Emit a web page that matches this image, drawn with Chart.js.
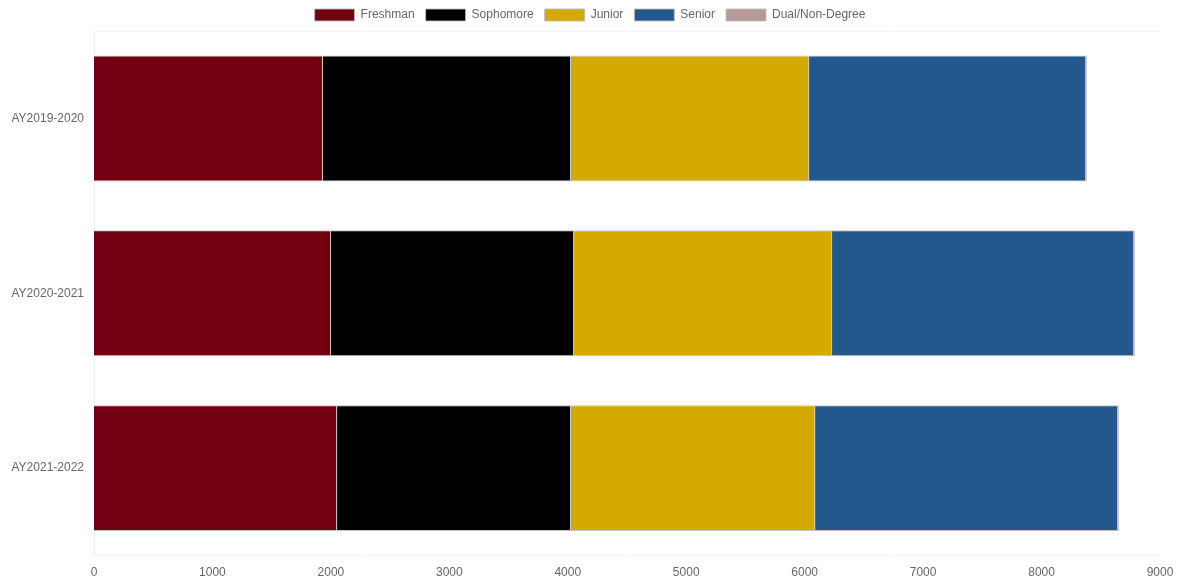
<!DOCTYPE html>
<html>
<head>
<meta charset="utf-8">
<script src="https://cdn.jsdelivr.net/npm/chart.js@4"></script>
<style>
  html, body { margin: 0; padding: 0; background: #fff; }
  #wrap { width: 1180px; height: 584px; }
</style>
</head>
<body>
<div id="wrap"><canvas id="bar_chart"></canvas></div>
<script>
// 学年
const years = ['AY2019-2020', 'AY2020-2021', 'AY2021-2022']

// 学生数のデータ
const freshman = [1933, 2001, 2052]
const sophomore = [2094, 2052, 1975]
const junior = [2010, 2178, 2061]
const senior = [2339, 2550, 2558]
const dual = [8, 8, 8]

const xTicks = [0, 1000, 2000, 3000, 4000, 5000, 6000, 7000, 8000, 9000]

Chart.defaults.font.family = '"Liberation Sans", Arial, sans-serif'
Chart.defaults.font.size = 12
Chart.defaults.color = '#666'

const border = 'rgba(190, 190, 190, 0.9)'

// 凡例をキャンバス中央に寄せる
const legendShift = {
  id: 'legendShift',
  afterLayout(chart) {
    chart.legend.left += 10
    chart.legend.right += 10
  },
}

const ctx = document.getElementById('bar_chart').getContext('2d')
const bar_chart = new Chart(ctx, {
  type: 'bar',
  data: {
    labels: years,
    datasets: [
      { label: 'Freshman', data: freshman, backgroundColor: 'rgb(115, 0, 16)', borderColor: border, borderWidth: 1 },
      { label: 'Sophomore', data: sophomore, backgroundColor: 'rgb(0, 0, 0)', borderColor: border, borderWidth: 1 },
      { label: 'Junior', data: junior, backgroundColor: 'rgb(212, 169, 0)', borderColor: border, borderWidth: 1 },
      { label: 'Senior', data: senior, backgroundColor: 'rgb(35, 88, 140)', borderColor: border, borderWidth: 1 },
      { label: 'Dual/Non-Degree', data: dual, backgroundColor: 'rgb(185, 152, 152)', borderColor: border, borderWidth: 1 },
    ],
  },
  plugins: [legendShift],
  options: {
    indexAxis: 'y',
    responsive: true,
    maintainAspectRatio: false,
    animation: false,
    layout: { padding: { left: 0, right: 20, top: -2, bottom: 2 } },
    categoryPercentage: 0.8,
    barPercentage: 0.9,
    plugins: {
      legend: {
        position: 'top',
        labels: { boxWidth: 40, boxHeight: 12, padding: 11, color: '#666' },
      },
      tooltip: { enabled: false },
    },
    scales: {
      x: {
        stacked: true,
        min: 0,
        max: 9000,
        afterBuildTicks: (axis) => { axis.ticks = xTicks.map((v) => ({ value: v })) },
        grid: { display: false },
        border: { display: true, color: '#f3f3f3' },
        ticks: { padding: 2, callback: (v) => String(v) },
      },
      y: {
        stacked: true,
        afterFit: (scale) => { scale.width = 94 },
        grid: {
          color: (c) => (c.index === 0 || c.index === years.length ? '#f3f3f3' : 'rgba(0,0,0,0)'),
          drawTicks: false,
        },
        border: { display: true, color: '#eeeeee' },
        ticks: { padding: 10 },
      },
    },
  },
})
</script>
</body>
</html>
